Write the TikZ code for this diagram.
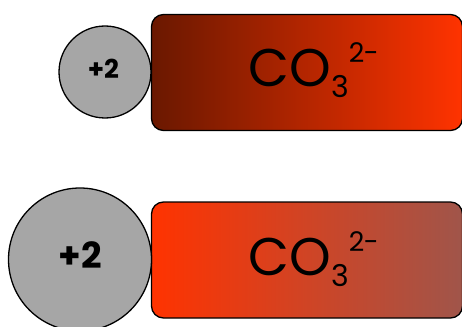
\documentclass[tikz,border=0pt]{standalone}
\usepackage{fontspec}
\setmainfont{Poppins}
\definecolor{darkred}{HTML}{6A1800}
\definecolor{brightred}{HTML}{FF3300}
\definecolor{brownred}{HTML}{A0554A}
\definecolor{ion}{HTML}{A6A6A6}
\tikzset{
  anion/.style={draw=black, line width=1.3pt, rounded corners=12pt, minimum width=311pt, minimum height=116pt, inner sep=0pt},
  cation/.style={circle, draw=black, line width=1.3pt, fill=ion, inner sep=0pt},
  formula/.style={font=\fontsize{53}{53}\selectfont},
}
\newcommand{\carbonate}{CO\raisebox{-11pt}{\fontsize{30}{30}\selectfont 3}\raisebox{24pt}{\fontsize{27}{27}\selectfont 2\kern-0.5pt-}}
\begin{document}
\begin{tikzpicture}[x=1pt,y=-1pt]
\useasboundingbox (0,0) rectangle (462,326);
\begin{scope}
\clip (0,0) rectangle (462,326);
\node[anion, left color=darkred, right color=brightred] (r1) at (307,72.5) {};
\node[anion, left color=brightred, right color=brownred] (r2) at (307,260) {};
\node[cation, minimum size=92pt] (c1) at (105,72) {};
\node[cation, minimum size=143pt] (c2) at (80,259.5) {};
\end{scope}
\node[formula, anchor=base west] (t1) at (245,87) {\carbonate};
\node[formula, anchor=base west] (t2) at (245,275) {\carbonate};
\node[font=\bfseries\fontsize{26}{26}\selectfont, anchor=base] (p1) at (103.5,78) {+2};
\node[font=\bfseries\fontsize{36}{36}\selectfont, anchor=base] (p2) at (80,268) {+2};
\end{tikzpicture}
\end{document}
